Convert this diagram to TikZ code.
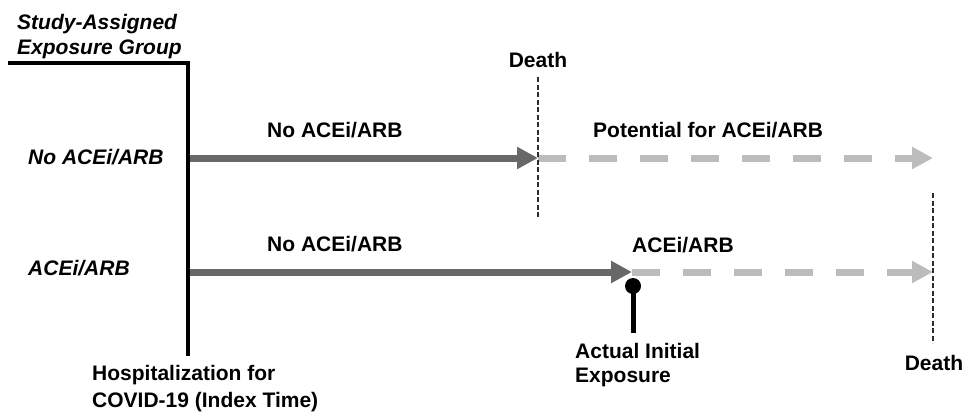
\documentclass[tikz,border=0pt]{standalone}
\usepackage{fontspec}
\setmainfont{Liberation Sans}
\usetikzlibrary{arrows.meta}
\definecolor{shaftdark}{RGB}{104,104,104}
\definecolor{shaftlight}{RGB}{188,188,188}
\definecolor{deathline}{RGB}{45,45,45}
\begin{document}
\begin{tikzpicture}[x=1pt,y=-1pt,
  lbl/.style={inner sep=0pt,font=\fontsize{21}{26}\selectfont\bfseries},
  grp/.style={lbl,font=\fontsize{21}{26}\selectfont\bfseries\itshape},
  frame/.style={line width=4pt,black},
  taken/.style={line width=7pt,shaftdark,-{Triangle[length=21pt,width=21pt]}},
  potential/.style={line width=7pt,shaftlight,dash pattern=on 28pt off 23pt,
    -{Triangle[length=21pt,width=21pt]}},
  deathmark/.style={line width=1.8pt,deathline,dash pattern=on 5pt off 2.5pt},
  pinhead/.style={circle,fill=black,inner sep=0pt,minimum size=16pt},
  pinstem/.style={line width=5pt,black}]
\useasboundingbox (0,0) rectangle (967,413);

% axis frame: exposure-group header and index time
\coordinate (hdr-left) at (8,63);
\coordinate (corner) at (188,63);
\coordinate (idx-bottom) at (188,356);
\draw[frame] (hdr-left) -- (corner) -- (idx-bottom);

\node[grp,anchor=north west,align=left,font=\fontsize{21}{25}\selectfont\bfseries\itshape]
  (hdr) at (17,14.5) {Study-Assigned\\Exposure Group};
\node[lbl,anchor=north west,align=left,font=\fontsize{21}{27}\selectfont\bfseries]
  (idx) at (92,365) {Hospitalization for\\COVID-19 (Index Time)};

% group 1: no ACEi/ARB
\node[grp,anchor=base west] (g1) at (28,164.5) {No ACEi/ARB};
\coordinate (r1-start) at (190,158);
\coordinate (r1-death) at (538,158);
\coordinate (r1-end) at (933,158);
\draw[potential] (r1-death) -- (r1-end);
\draw[taken] (r1-start) -- (r1-death);
\node[lbl,anchor=base west] (r1-no) at (267,137) {No ACEi/ARB};
\node[lbl,anchor=base west] (r1-pot) at (593,137) {Potential for ACEi/ARB};

\coordinate (d1-top) at (538,77);
\coordinate (d1-bot) at (538,217);
\draw[deathmark] (d1-top) -- (d1-bot);
\node[lbl,anchor=base] (death1) at (538,67.5) {Death};

% group 2: ACEi/ARB
\node[grp,anchor=base west] (g2) at (28,275.5) {ACEi/ARB};
\coordinate (r2-start) at (190,272);
\coordinate (r2-exp) at (632,272);
\coordinate (r2-end) at (933,272);
\draw[potential] (r2-exp) -- (r2-end);
\draw[taken] (r2-start) -- (r2-exp);
\node[lbl,anchor=base west] (r2-no) at (267,251.5) {No ACEi/ARB};
\node[lbl,anchor=base west] (r2-on) at (632,252.5) {ACEi/ARB};

% actual initial exposure marker
\node[pinhead] (pin) at (633,286) {};
\coordinate (pin-foot) at (633,333);
\draw[pinstem] (pin.center) -- (pin-foot);
\node[lbl,anchor=north west,align=left,font=\fontsize{21}{24}\selectfont\bfseries]
  (exp) at (575,343) {Actual Initial\\Exposure};

\coordinate (d2-top) at (933,193);
\coordinate (d2-bot) at (933,343);
\draw[deathmark] (d2-top) -- (d2-bot);
\node[lbl,anchor=base] (death2) at (934,370.5) {Death};
\end{tikzpicture}
\end{document}
